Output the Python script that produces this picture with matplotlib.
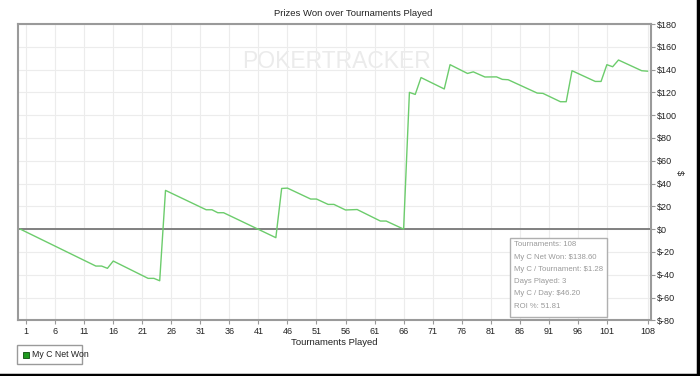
import matplotlib
matplotlib.use("Agg")
import matplotlib.pyplot as plt
from matplotlib.lines import Line2D
from matplotlib.patches import Rectangle

# Data: vertices of the cumulative net-won line (tournament index, $)
tournaments = [0, 13, 14, 15, 16, 22, 23, 24, 25, 32, 33, 34, 35, 44, 45, 46,
               50, 51, 53, 54, 56, 58, 62, 63, 66, 67, 68, 69, 73, 74, 77, 78,
               80, 82, 83, 84, 89, 90, 93, 94, 95, 99, 100, 101, 102, 103, 107, 108]
net_won = [0, -32.4, -32.4, -34.4, -28.0, -43.2, -43.2, -45.3, 34.0, 17.0, 17.0,
           14.4, 14.4, -7.5, 35.7, 36.0, 26.4, 26.4, 21.7, 21.7, 16.8, 17.2, 7.1,
           7.1, 0.0, 120.0, 118.2, 133.0, 123.0, 144.3, 136.6, 138.0, 133.5, 133.6,
           131.4, 131.1, 119.4, 119.1, 111.8, 111.8, 139.0, 129.6, 129.6, 144.3,
           142.5, 148.4, 139.0, 138.6]
x_ticks = [1, 6, 11, 16, 21, 26, 31, 36, 41, 46, 51, 56, 61, 66, 71, 76, 81, 86,
           91, 96, 101, 108]
y_ticks = [-80, -60, -40, -20, 0, 20, 40, 60, 80, 100, 120, 140, 160, 180]
stats_lines = ["Tournaments: 108", "My C Net Won: $138.60", "My C / Tournament: $1.28",
               "Days Played: 3", "My C / Day: $46.20", "ROI %: 51.81"]

plt.rcParams['font.family'] = ['Liberation Sans', 'DejaVu Sans']

W, H = 700, 376
fig = plt.figure(figsize=(W / 100, H / 100), dpi=100)
fig.patch.set_facecolor('white')

ax = fig.add_axes([18 / W, 1 - 320.3 / H, (651 - 18) / W, (320.3 - 24) / H])
ax.set_xlim(-0.4, 108.6)
ax.set_ylim(-80, 180)

# watermark
ax.text(337 / W * W / 633 - 18 / 633, 0.875, "POKERTRACKER", transform=ax.transAxes,
        ha='center', va='center', fontsize=16.5, color='#ebebeb', zorder=0)

ax.grid(True, color='#ececec', linewidth=0.8)
ax.set_axisbelow(True)
ax.axhline(0, color='#808080', linewidth=1.4, zorder=1)

ax.plot(tournaments, net_won, color='#6ccc6c', linewidth=1.0, zorder=3)

ax.set_xticks(x_ticks)
ax.set_xticklabels([str(t) for t in x_ticks])
ax.set_yticks(y_ticks)
ax.set_yticklabels([f"${v}" for v in y_ticks])
ax.yaxis.tick_right()
ax.yaxis.set_label_position('right')
ax.tick_params(axis='both', labelsize=6.5, length=3, width=0.8,
               direction='out', pad=1.5)
ax.tick_params(axis='x', colors='#999999', labelcolor='#222222')
ax.tick_params(axis='y', colors='#999999', labelcolor='#222222')
for s in ax.spines.values():
    s.set_color('#9a9a9a')
    s.set_linewidth(1.5)

ax.set_xlabel("Tournaments Played", fontsize=6.8, color='#222222', labelpad=2)
ax.set_ylabel("$", fontsize=6.8, color='#222222', rotation=-90, labelpad=5)

fig.text(0.505, 1 - 13 / H, "Prizes Won over Tournaments Played", ha='center',
         va='center', fontsize=6.8, color='#222222')

# stats box
bx0, by0, bx1, by1 = 510, 238, 607, 317
fig.patches.append(Rectangle((bx0 / W, 1 - by1 / H), (bx1 - bx0) / W, (by1 - by0) / H,
                             transform=fig.transFigure, facecolor='white',
                             edgecolor='#b0b0b0', linewidth=1.0, zorder=5))
for i, line in enumerate(stats_lines):
    fig.text(514 / W, 1 - (245 + i * 12.2) / H, line, ha='left', va='center',
             fontsize=5.6, color='#9a9a9a', zorder=6)

# legend box
lx0, ly0, lx1, ly1 = 17, 345, 82, 364
fig.patches.append(Rectangle((lx0 / W, 1 - ly1 / H), (lx1 - lx0) / W, (ly1 - ly0) / H,
                             transform=fig.transFigure, facecolor='white',
                             edgecolor='#9a9a9a', linewidth=1.0))
fig.patches.append(Rectangle((23 / W, 1 - 358 / H), 6 / W, 6 / H,
                             transform=fig.transFigure, facecolor='#1f9a1f',
                             edgecolor='#0c4d0c', linewidth=0.6))
fig.text(32 / W, 1 - 354.5 / H, "My C Net Won", ha='left', va='center', fontsize=6.3,
         color='#222222')

# outer frame shadow (right and bottom)
fig.add_artist(Line2D([697.5 / W, 697.5 / W], [0, 1], transform=fig.transFigure,
                      color='black', linewidth=2.5))
fig.add_artist(Line2D([0, 1], [1.5 / H, 1.5 / H], transform=fig.transFigure,
                      color='black', linewidth=2.5))

fig.savefig("out.png", dpi=100, facecolor='white')
